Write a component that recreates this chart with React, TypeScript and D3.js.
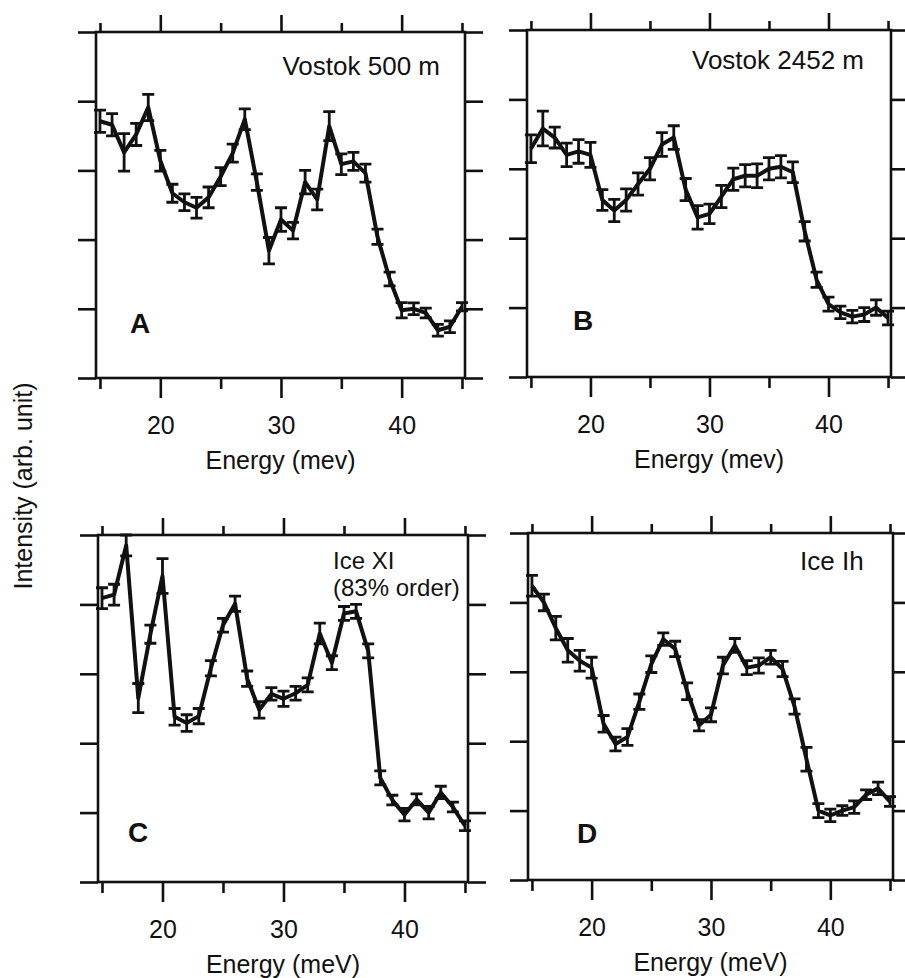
import React, { useEffect, useRef } from 'react';
import * as d3 from 'd3';

// energy grid, meV
const ENERGY = [15, 16, 17, 18, 19, 20, 21, 22, 23, 24, 25, 26, 27, 28, 29, 30, 31, 32, 33, 34, 35, 36, 37, 38, 39, 40, 41, 42, 43, 44, 45];

// intensity (arb. unit, axis ticks 0..5)
const VOSTOK_500 = [3.71, 3.66, 3.26, 3.52, 3.91, 3.14, 2.67, 2.54, 2.46, 2.61, 2.91, 3.25, 3.74, 2.83, 1.84, 2.29, 2.13, 2.83, 2.58, 3.64, 3.09, 3.13, 2.96, 2.04, 1.43, 0.98, 1.0, 0.94, 0.69, 0.74, 1.03];
const VOSTOK_500_ERR = [0.16, 0.16, 0.27, 0.16, 0.19, 0.15, 0.13, 0.12, 0.15, 0.15, 0.13, 0.13, 0.15, 0.12, 0.19, 0.17, 0.12, 0.17, 0.15, 0.21, 0.15, 0.13, 0.13, 0.11, 0.1, 0.11, 0.085, 0.07, 0.085, 0.085, 0.06];

const VOSTOK_2452 = [3.29, 3.58, 3.45, 3.2, 3.25, 3.2, 2.55, 2.4, 2.55, 2.78, 3.0, 3.35, 3.45, 2.7, 2.3, 2.35, 2.6, 2.85, 2.9, 2.9, 3.0, 3.03, 2.95, 2.1, 1.4, 1.05, 0.93, 0.87, 0.9, 1.0, 0.85];
const VOSTOK_2452_ERR = [0.2, 0.25, 0.15, 0.17, 0.17, 0.18, 0.15, 0.16, 0.16, 0.16, 0.16, 0.17, 0.17, 0.16, 0.17, 0.14, 0.16, 0.16, 0.16, 0.17, 0.16, 0.16, 0.15, 0.14, 0.11, 0.1, 0.09, 0.09, 0.1, 0.11, 0.1];

const ICE_XI = [4.09, 4.14, 4.85, 2.65, 3.57, 4.41, 2.38, 2.29, 2.39, 3.08, 3.7, 4.01, 2.93, 2.48, 2.71, 2.64, 2.72, 2.84, 3.58, 3.16, 3.87, 3.9, 3.33, 1.5, 1.18, 0.97, 1.19, 1.0, 1.29, 1.08, 0.81];
const ICE_XI_ERR = [0.15, 0.15, 0.15, 0.21, 0.13, 0.25, 0.12, 0.12, 0.11, 0.11, 0.1, 0.11, 0.11, 0.12, 0.09, 0.11, 0.1, 0.1, 0.15, 0.1, 0.1, 0.1, 0.1, 0.1, 0.07, 0.09, 0.08, 0.09, 0.09, 0.07, 0.07];

const ICE_IH = [4.24, 4.0, 3.63, 3.31, 3.16, 3.06, 2.25, 1.96, 2.06, 2.57, 3.11, 3.47, 3.33, 2.72, 2.23, 2.38, 3.09, 3.38, 3.06, 3.09, 3.21, 3.04, 2.5, 1.74, 1.0, 0.93, 1.0, 1.05, 1.23, 1.32, 1.13];
const ICE_IH_ERR = [0.15, 0.12, 0.17, 0.17, 0.15, 0.15, 0.12, 0.1, 0.12, 0.11, 0.12, 0.09, 0.11, 0.12, 0.08, 0.1, 0.12, 0.1, 0.1, 0.11, 0.1, 0.11, 0.11, 0.17, 0.1, 0.09, 0.07, 0.09, 0.07, 0.09, 0.07];

const X_MAJOR = [20, 30, 40];
const X_MINOR = [15, 25, 35, 45];
const Y_TICKS = [0, 1, 2, 3, 4, 5];

const PANELS = [
  { letter: 'A', title: ['Vostok 500 m'], values: VOSTOK_500, errors: VOSTOK_500_ERR, xLabel: 'Energy (mev)' },
  { letter: 'B', title: ['Vostok 2452 m'], values: VOSTOK_2452, errors: VOSTOK_2452_ERR, xLabel: 'Energy (mev)' },
  { letter: 'C', title: ['Ice XI', '(83% order)'], values: ICE_XI, errors: ICE_XI_ERR, xLabel: 'Energy (meV)' },
  { letter: 'D', title: ['Ice Ih'], values: ICE_IH, errors: ICE_IH_ERR, xLabel: 'Energy (meV)' },
];

// frame boxes and label offsets, px
const LAYOUT = [
  { x: 96, y: 32, w: 369, h: 346, tx: 440, ty: 75, anchor: 'end', lx: 130, ly: 333 },
  { x: 527, y: 30, w: 364, h: 347, tx: 864, ty: 69, anchor: 'end', lx: 573, ly: 330 },
  { x: 98, y: 535, w: 370, h: 347, tx: 333, ty: 569, anchor: 'start', lx: 128, ly: 842 },
  { x: 528, y: 533, w: 365, h: 347, tx: 800, ty: 570, anchor: 'start', lx: 577, ly: 843 },
];

const FONT = '"Liberation Sans", Arial, Helvetica, sans-serif';
const INK = '#111';

export default function App() {
  const ref = useRef<SVGSVGElement | null>(null);

  useEffect(() => {
    document.body.style.margin = '0';
    const svg = d3.select(ref.current);
    svg.selectAll('*').remove();

    svg.append('text')
      .attr('transform', 'translate(32,486) rotate(-90)')
      .attr('text-anchor', 'middle')
      .attr('font-family', FONT)
      .attr('font-size', 25)
      .attr('fill', INK)
      .text('Intensity (arb. unit)');

    PANELS.forEach((p, i) => {
      const L = LAYOUT[i];
      const x = d3.scaleLinear().domain([14.67, 45.25]).range([L.x, L.x + L.w]);
      const y = d3.scaleLinear().domain([0, 5]).range([L.y + L.h, L.y]);
      const g = svg.append('g');

      const styleAxis = (sel: any) => {
        sel.select('.domain').remove();
        sel.selectAll('line').attr('stroke', INK).attr('stroke-width', 2.6);
        sel.attr('font-family', FONT).attr('font-size', 25);
        sel.selectAll('text').attr('fill', INK);
      };

      // x ticks, bottom (labelled majors) and top
      g.append('g').attr('transform', `translate(0,${L.y + L.h})`)
        .call(d3.axisBottom(x).tickValues(X_MAJOR).tickSize(20).tickPadding(18).tickFormat(d3.format('d')))
        .call(styleAxis);
      g.append('g').attr('transform', `translate(0,${L.y + L.h})`)
        .call(d3.axisBottom(x).tickValues(X_MINOR).tickSize(11).tickFormat(() => ''))
        .call(styleAxis);
      g.append('g').attr('transform', `translate(0,${L.y})`)
        .call(d3.axisTop(x).tickValues(X_MAJOR).tickSize(17).tickFormat(() => ''))
        .call(styleAxis);
      g.append('g').attr('transform', `translate(0,${L.y})`)
        .call(d3.axisTop(x).tickValues(X_MINOR).tickSize(9).tickFormat(() => ''))
        .call(styleAxis);

      // y ticks both sides, unlabelled
      g.append('g').attr('transform', `translate(${L.x},0)`)
        .call(d3.axisLeft(y).tickValues(Y_TICKS).tickSize(18).tickFormat(() => ''))
        .call(styleAxis);
      g.append('g').attr('transform', `translate(${L.x + L.w},0)`)
        .call(d3.axisRight(y).tickValues(Y_TICKS).tickSize(18).tickFormat(() => ''))
        .call(styleAxis);

      g.append('rect')
        .attr('x', L.x).attr('y', L.y).attr('width', L.w).attr('height', L.h)
        .attr('fill', 'none').attr('stroke', INK).attr('stroke-width', 2.6);

      g.append('text')
        .attr('x', L.x + L.w / 2).attr('y', L.y + L.h + 91)
        .attr('text-anchor', 'middle')
        .attr('font-family', FONT).attr('font-size', 25).attr('fill', INK)
        .text(p.xLabel);

      // error bars
      const cap = 6;
      g.append('g').selectAll('path')
        .data(ENERGY)
        .join('path')
        .attr('d', (e, j) => {
          const cx = x(e);
          const top = y(p.values[j] + p.errors[j]);
          const bot = y(p.values[j] - p.errors[j]);
          return `M${cx},${top}V${bot}M${cx - cap},${top}H${cx + cap}M${cx - cap},${bot}H${cx + cap}`;
        })
        .attr('fill', 'none')
        .attr('stroke', INK)
        .attr('stroke-width', 2.8);

      const line = d3.line<number>()
        .x(e => x(e))
        .y((_, j) => y(p.values[j]));

      g.append('path')
        .datum(ENERGY)
        .attr('d', line)
        .attr('fill', 'none')
        .attr('stroke', INK)
        .attr('stroke-width', 4)
        .attr('stroke-linejoin', 'round');

      // title lines, one text each
      p.title.forEach((t, k) => {
        g.append('text')
          .attr('x', L.tx).attr('y', L.ty + k * 27)
          .attr('text-anchor', L.anchor)
          .attr('font-family', FONT)
          .attr('font-size', p.title.length > 1 ? 24 : 26)
          .attr('fill', INK)
          .text(t);
      });

      g.append('text')
        .attr('x', L.lx).attr('y', L.ly)
        .attr('font-family', FONT).attr('font-size', 28).attr('font-weight', 'bold').attr('fill', INK)
        .text(p.letter);
    });
  }, []);

  return <svg ref={ref} width={905} height={978} style={{ display: 'block', background: '#fff' }} />;
}
